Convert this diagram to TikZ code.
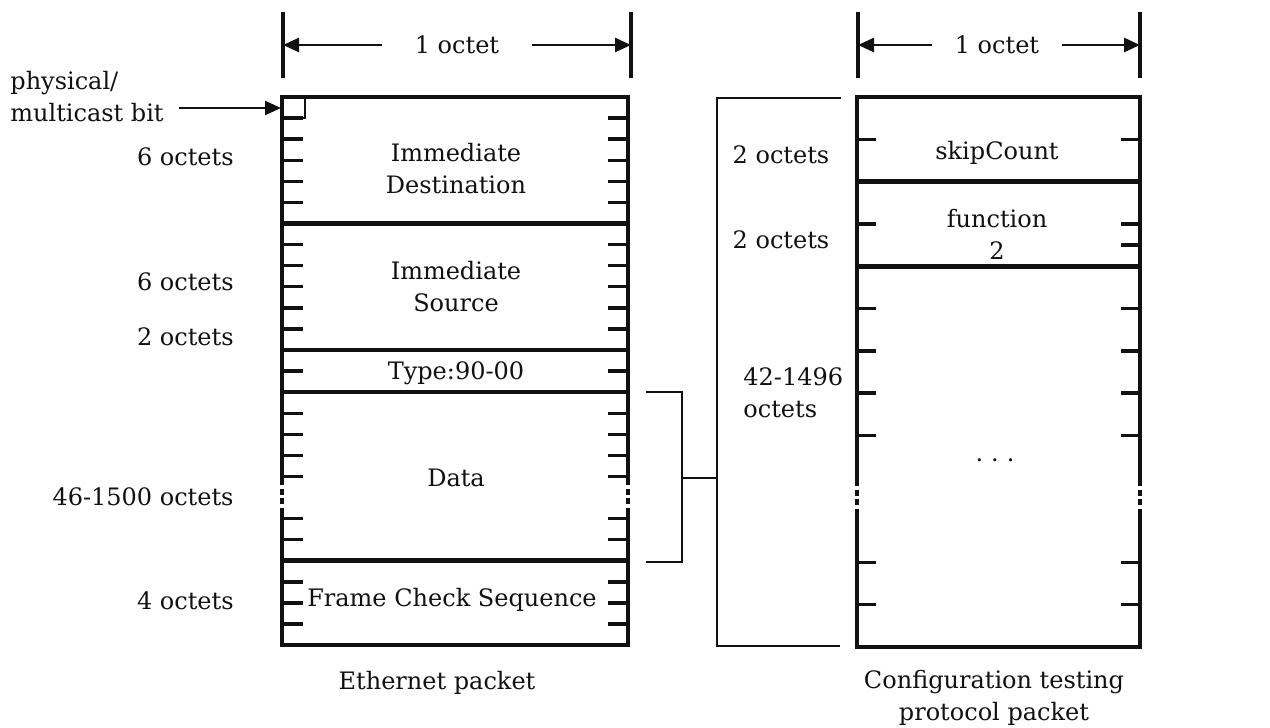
\documentclass[tikz,border=0pt]{standalone}
\usepackage{fontspec}
\setmainfont{DejaVu Serif}
\usetikzlibrary{arrows.meta, positioning, calc}
\definecolor{ink}  {HTML}{111111}
\definecolor{paper}{HTML}{FFFFFF}
\tikzset{
  frame/.style={draw=ink, line width=2.4pt, line join=miter},
  sepline/.style={draw=ink, line width=2.3pt},
  tickline/.style={draw=ink, line width=1.7pt},
  thinline/.style={draw=ink, line width=1.2pt},
  dotside/.style={draw=ink, line width=2.4pt, dash pattern=on 3pt off 1.8pt},
  dimbar/.style={draw=ink, line width=2.2pt},
  dimarrow/.style={draw=ink, line width=1.3pt, -{Triangle[length=8pt, width=7pt]}},
  lbl/.style={font=\fontsize{12}{16}\selectfont, text=ink, inner sep=0pt, align=center},
}
\begin{document}
\begin{tikzpicture}[x=0.5pt, y=-0.5pt]
    \fill[paper] (0,0) rectangle (1270,728);
    \useasboundingbox (0,0) rectangle (1270,728);

    % width markers
    \draw[dimbar] (283,12) -- (283,78) (631,12) -- (631,78);
    \draw[dimbar] (858,12) -- (858,78) (1140,12) -- (1140,78);
    \coordinate (ethL) at (283,45);   \coordinate (ethR) at (631,45);
    \coordinate (ctpL) at (858,45);   \coordinate (ctpR) at (1140,45);
    \node[lbl, inner xsep=16pt] (ethWidth) at (457,45) {1 octet};
    \node[lbl, inner xsep=11pt] (ctpWidth) at (997,45) {1 octet};
    \draw[dimarrow] (ethWidth.west) -- (ethL);
    \draw[dimarrow] (ethWidth.east) -- (ethR);
    \draw[dimarrow] (ctpWidth.west) -- (ctpL);
    \draw[dimarrow] (ctpWidth.east) -- (ctpR);

    % Ethernet packet
    \draw[frame] (282,479) -- (282,97) -- (628,97) -- (628,479);
    \draw[frame] (282,514) -- (282,645) -- (628,645) -- (628,514);
    \draw[dotside] (282,479) -- (282,514) (628,479) -- (628,514);
    \foreach \k in {6,12,14,22}
      {\pgfmathsetmacro{\ty}{97+\k*21.08}
       \draw[sepline] (282,\ty) -- (628,\ty);}
    \foreach \k in {1,...,5,7,8,9,10,11,13,15,16,17,18,20,21,23,24,25}
      {\pgfmathsetmacro{\ty}{97+\k*21.08}
       \draw[tickline] (282,\ty) -- ++(21,0) (628,\ty) -- ++(-20,0);}
    \draw[thinline] (282,118) -| (305,97);
    \coordinate (bitCorner) at (281,108);

    \node[lbl] (dest) at (456,169) {Immediate\\Destination};
    \node[lbl] (src)  at (456,287) {Immediate\\Source};
    \node[lbl] (type) at (456,373) {Type:90-00};
    \node[lbl] (data) at (456,478) {Data};
    \node[lbl] (fcs)  at (452,600) {Frame Check Sequence};
    \node[lbl] (ethCaption) at (437,683) {Ethernet packet};

    \node[lbl, anchor=east] (destLen) at (234,157) {6 octets};
    \node[lbl, anchor=east] (srcLen)  at (234,282) {6 octets};
    \node[lbl, anchor=east] (typeLen) at (234,337) {2 octets};
    \node[lbl, anchor=east] (dataLen) at (234,497) {46-1500 octets};
    \node[lbl, anchor=east] (fcsLen)  at (234,601) {4 octets};

    \node[lbl, anchor=west, align=left] (bitNote) at (10,97) {physical/\\multicast bit};
    \draw[dimarrow] ([xshift=7.5pt]bitNote.east |- bitCorner) -- (bitCorner);

    % bracket over the data field
    \coordinate (dataTop) at (646,392);
    \coordinate (dataBot) at (646,562);
    \coordinate (midIn)   at (717,478);
    \draw[thinline] (dataTop) -| (682,562) -- (dataBot);
    \draw[thinline] (682,478) -- (midIn);

    % data field lengths
    \draw[thinline] (841,98) -- (717,98) -- (717,646) -- (840,646);
    \node[lbl] (skipLen) at (781,155) {2 octets};
    \node[lbl] (funcLen) at (781,240) {2 octets};
    \node[lbl, anchor=west, align=left] (restLen) at (743,393) {42-1496\\octets};

    % configuration testing packet
    \draw[frame] (857,480) -- (857,97) -- (1140,97) -- (1140,480);
    \draw[frame] (857,512) -- (857,647) -- (1140,647) -- (1140,512);
    \draw[dotside] (857,480) -- (857,512) (1140,480) -- (1140,512);
    \foreach \k in {2,4}
      {\pgfmathsetmacro{\ty}{97+\k*42.3}
       \draw[sepline] (857,\ty) -- (1140,\ty);}
    \foreach \k in {1,3,5,6,7,8,11,12}
      {\pgfmathsetmacro{\ty}{97+\k*42.3}
       \draw[tickline] (857,\ty) -- ++(19,0) (1140,\ty) -- ++(-19,0);}
    \draw[tickline] (1140,245) -- ++(-19,0);

    \node[lbl] (skip) at (997,153) {skipCount};
    \node[lbl] (func) at (997,234) {function\\2};
    \node[lbl] (more) at (995,460) {.\,\,.\,\,.};
    \node[lbl] (ctpCaption) at (994,698) {Configuration testing\\protocol packet};
  \end{tikzpicture}
\end{document}
